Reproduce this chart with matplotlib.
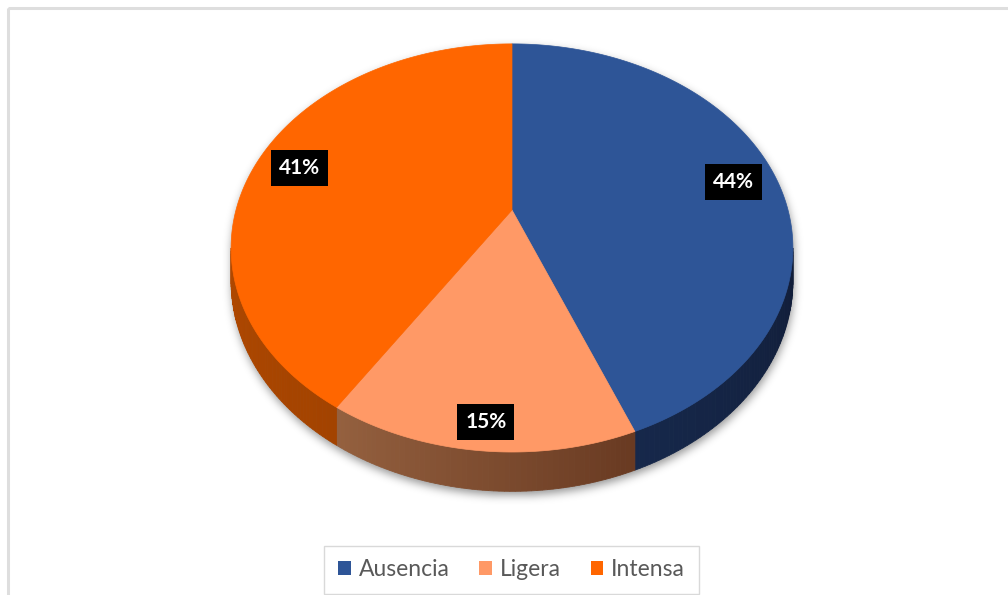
import numpy as np
import matplotlib
matplotlib.use("Agg")
import matplotlib.pyplot as plt
from matplotlib.patches import Polygon, Rectangle, Patch
from matplotlib.path import Path

# data
categories = ["Ausencia", "Ligera", "Intensa"]
shares = [44, 15, 41]
labels = ["44%", "15%", "41%"]

# style
top_colors = ["#2e5597", "#ff9966", "#ff6600"]
side_colors = [("#16284b", "#111d38"), ("#95613f", "#693a22"), ("#b04800", "#a34300")]
label_frac = [0.84, 0.9, 0.8]
label_nudge = [(0, 2), (2, 0), (-9, 0)]

W, H = 1008, 595
cx, cy = 512.0, 210.0      # apex of the slices
a, b, g = 276.0, 197.0, 0.186  # perspective ellipse
depth = 32.0


def proj(t, f=1.0, drop=0.0):
    u = f * np.sin(t)
    v = f * np.cos(t)
    w = 1 + g * v
    return cx + a * u / w, cy - b * v / w + drop * depth / w


def mix(c1, c2, s):
    c1 = np.array(matplotlib.colors.to_rgb(c1))
    c2 = np.array(matplotlib.colors.to_rgb(c2))
    return tuple(c1 * (1 - s) + c2 * s)


fig = plt.figure(figsize=(W / 100, H / 100), dpi=100)
ax = fig.add_axes([0, 0, 1, 1])
ax.set_xlim(0, W)
ax.set_ylim(H, 0)
ax.axis("off")

# chart frame
ax.add_patch(Rectangle((8, 8), W + 20, H + 20, fill=False, edgecolor="#dedede", lw=2.2, zorder=1))

# shadow under the pie
t_lo = np.arccos(-g)
t_hi = 2 * np.pi - t_lo
back = np.linspace(t_hi, t_lo + 2 * np.pi, 300)
front = np.linspace(t_lo, t_hi, 300)
sx, sy = proj(back)
fx, fy = proj(front, drop=1)
outline = np.column_stack([np.r_[sx, fx], np.r_[sy, fy]])
yy, xx = np.mgrid[0:H, 0:W] + 0.5
mask = Path(outline + [1, 4]).contains_points(np.column_stack([xx.ravel(), yy.ravel()])).reshape(H, W).astype(float)
k = np.arange(-14, 15)
kern = np.exp(-k ** 2 / (2 * 4.5 ** 2))
kern /= kern.sum()
for axis in (0, 1):
    acc = np.zeros_like(mask)
    for off, wt in zip(k, kern):
        acc += wt * np.roll(mask, off, axis=axis)
    mask = acc
shadow = np.zeros((H, W, 4))
shadow[..., 3] = mask * 0.42
ax.imshow(shadow, extent=(0, W, H, 0), zorder=2, interpolation="bilinear")

# slices
total = float(sum(shares))
bounds = np.r_[0, np.cumsum(shares)] / total * 2 * np.pi
for i in range(len(shares)):
    t1, t2 = bounds[i], bounds[i + 1]
    # visible side wall, shaded from its left end to its right end
    s1, s2 = max(t1, t_lo), min(t2, t_hi)
    if s2 > s1:
        ts = np.linspace(s1, s2, 60)
        for j in range(len(ts) - 1):
            xa, ya = proj(ts[j:j + 2])
            xb, yb = proj(ts[j:j + 2], drop=1)
            frac = (ts[j] - s1) / (s2 - s1)
            col = mix(side_colors[i][1], side_colors[i][0], frac)
            quad = [(xa[0], ya[0]), (xa[1], ya[1]), (xb[1], yb[1]), (xb[0], yb[0])]
            ax.add_patch(Polygon(quad, closed=True, facecolor=col, edgecolor=col, lw=0.6, zorder=3))
    # top face
    ts = np.linspace(t1, t2, 200)
    px, py = proj(ts)
    pts = np.column_stack([np.r_[cx, px], np.r_[cy, py]])
    ax.add_patch(Polygon(pts, closed=True, facecolor=top_colors[i], edgecolor=top_colors[i], lw=0.5, zorder=4))

# data labels
for i in range(len(shares)):
    tm = (bounds[i] + bounds[i + 1]) / 2
    lx, ly = proj(tm, f=label_frac[i])
    ax.text(lx + label_nudge[i][0], ly + label_nudge[i][1], labels[i], color="white", fontsize=15,
            fontweight="bold", family="Lato", ha="center", va="center", zorder=6,
            bbox=dict(boxstyle="square,pad=0.38", facecolor="black", edgecolor="none"))

# legend
handles = [Patch(facecolor=c, edgecolor="none") for c in top_colors]
leg = fig.legend(handles, categories, loc="center", bbox_to_anchor=(511.5 / W, 1 - 570 / H), ncol=3,
                 frameon=True, fancybox=False, edgecolor="#d9d9d9", framealpha=1,
                 handlelength=0.55, handleheight=0.55, handletextpad=0.35, columnspacing=1.3,
                 borderpad=0.6, borderaxespad=0, prop={"family": "Lato", "size": 16.5})
leg.get_frame().set_linewidth(1.0)
for txt in leg.get_texts():
    txt.set_color("#595959")

fig.savefig("out.png", dpi=100)
